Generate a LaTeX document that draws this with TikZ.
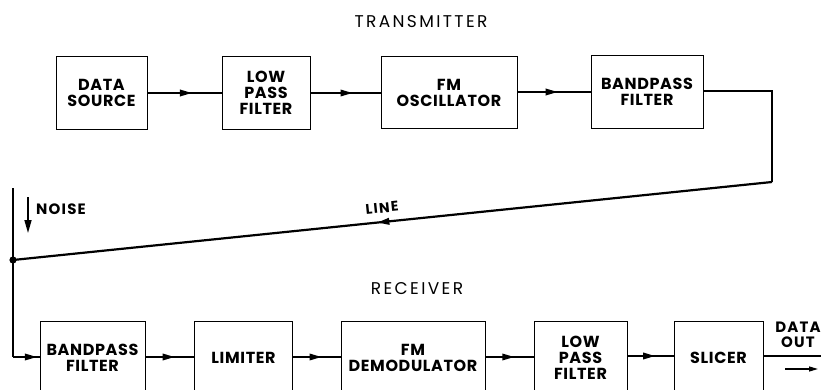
\documentclass[tikz,border=0pt]{standalone}
\usepackage{fontspec}
\setmainfont{Poppins}
\usetikzlibrary{arrows.meta,decorations.markings}
\begin{document}
\begin{tikzpicture}[x=1pt,y=-1pt,
  blk/.style={draw=black,line width=0.9pt,inner sep=0pt,align=center,
    font=\fontsize{16}{16}\selectfont\bfseries\addfontfeature{LetterSpace=4}},
  wire/.style={line width=1.8pt,line join=miter},
  midarr/.style={postaction={decorate},decoration={markings,
    mark=at position #1 with {\arrow{Triangle[length=12pt,width=6.5pt]}}}},
  ttl/.style={font=\fontsize{17}{18}\selectfont\addfontfeature{LetterSpace=14}},
  lbl/.style={font=\fontsize{15}{15.5}\selectfont\bfseries\addfontfeature{LetterSpace=8},inner sep=0pt,align=center}
]
\useasboundingbox (0,0) rectangle (821,390);
\clip (0,0) rectangle (821,390);
\fill[white] (0,0) rectangle (821,390);

% titles
\node[ttl] (ttx) at (421,22) {TRANSMITTER};
\node[ttl] (trx) at (417,289) {RECEIVER};

% transmitter blocks
\node[blk,minimum width=91pt,minimum height=73pt] (ds) at (101.5,92.5) {DATA\\SOURCE};
\node[blk,minimum width=88pt,minimum height=73pt] (lpa) at (266,92.5) {LOW\\PASS\\FILTER};
\node[blk,minimum width=136pt,minimum height=72pt] (fmo) at (449,92.5) {FM\\OSCILLATOR};
\node[blk,minimum width=112pt,minimum height=73pt] (bpa) at (647,91.5) {BANDPASS\\FILTER};

\draw[wire,midarr=0.6] (ds.east |- 0,93) -- (lpa.west |- 0,93);
\draw[wire,midarr=0.6] (lpa.east |- 0,93) -- (fmo.west |- 0,93);
\draw[wire,midarr=0.55] (fmo.east |- 0,92) -- (bpa.west |- 0,92);

% line
\coordinate (c1) at (772,91);
\coordinate (c2) at (772,182);
\coordinate (j) at (13,260);
\coordinate (top) at (13,188);
\coordinate (bot) at (13,357);
\draw[wire] (bpa.east |- c1) -- (c1) -- (c2);
\draw[wire,line width=2.2pt,midarr=0.52] (c2) -- (j);
\node[inner sep=0pt,font=\fontsize{14}{14}\selectfont\bfseries\addfontfeature{LetterSpace=10},rotate=5.9] (line) at (382,208) {LINE};
\fill (j) circle (3.6pt);

% noise
\coordinate (n1) at (28,197);
\coordinate (n2) at (28,233);
\draw[line width=1.6pt,-{Triangle[length=13pt,width=7pt]}] (n1) -- (n2);
\node[lbl,anchor=west] (noise) at (36,209) {NOISE};

% receiver blocks
\node[blk,minimum width=105pt,minimum height=74pt] (bpb) at (92.5,358) {BANDPASS\\FILTER};
\node[blk,minimum width=98pt,minimum height=74pt] (lim) at (243.5,358) {LIMITER};
\node[blk,minimum width=144pt,minimum height=74pt] (fmd) at (413,358) {FM\\DEMODULATOR};
\node[blk,minimum width=93pt,minimum height=74pt] (lpb) at (580.5,358) {LOW\\PASS\\FILTER};
\node[blk,minimum width=89pt,minimum height=74pt] (slc) at (718.5,358) {SLICER};

\draw[wire] (top) -- (bot);
\draw[wire,midarr=0.9] (bot) -- (bpb.west |- bot);
\draw[wire,midarr=0.6] (bpb.east |- 0,357) -- (lim.west |- 0,357);
\draw[wire,midarr=0.6] (lim.east |- 0,357) -- (fmd.west |- 0,357);
\draw[wire,midarr=0.6] (fmd.east |- 0,357) -- (lpb.west |- 0,357);
\draw[wire,midarr=0.6] (lpb.east |- 0,356) -- (slc.west |- 0,356);
\coordinate (out) at (830,356);
\draw[wire] (slc.east |- out) -- (out);

\node[lbl] (dout) at (798,335) {DATA\\OUT};
\coordinate (a1) at (785,369);
\coordinate (a2) at (818,369);
\draw[line width=1.3pt,-{Triangle[length=9pt,width=5pt]}] (a1) -- (a2);
\end{tikzpicture}
\end{document}
